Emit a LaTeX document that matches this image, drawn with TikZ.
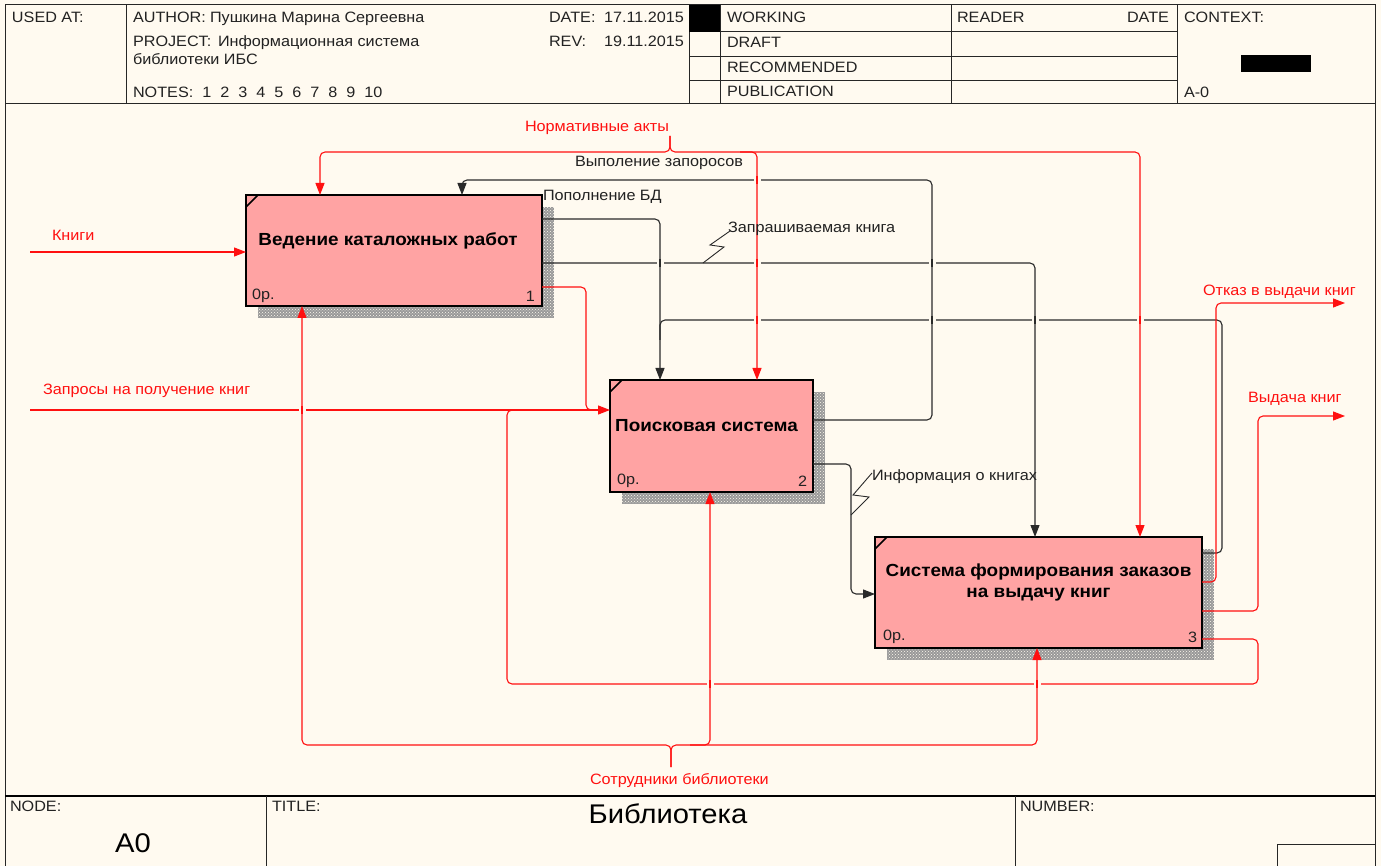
\documentclass[tikz,border=0pt]{standalone}
\usepackage{fontspec}
\setmainfont{Liberation Sans}[FakeStretch=1.08]
\usetikzlibrary{arrows.meta,patterns,calc}
\definecolor{bg}{HTML}{FFFAF0}
\definecolor{boxfill}{HTML}{FFA3A3}
\definecolor{ared}{HTML}{FF1010}
\definecolor{ink}{HTML}{222222}
\definecolor{wire}{HTML}{2A2A2A}
\newcommand{\crossgap}[3]{%
  \fill[bg] (#1-3.5,#2-2.2) rectangle (#1+3.5,#2+2.2);
  \draw[#3] (#1,#2-4) -- (#1,#2+4);}
\begin{document}
\begin{tikzpicture}[x=1pt,y=-1pt,
  every node/.style={inner sep=0pt,outer sep=0pt},
  frame/.style={draw=black!85,line width=1pt},
  hdr/.style={anchor=base west,font=\fontsize{15}{18}\selectfont,text=ink},
  rlbl/.style={anchor=base west,font=\fontsize{15}{18}\selectfont,text=ared},
  blbl/.style={anchor=base west,font=\fontsize{15}{18}\selectfont,text=ink},
  boxst/.style={draw=black,line width=2pt,fill=boxfill,anchor=north west},
  boxtxt/.style={font=\fontsize{17.5}{21}\bfseries\selectfont,text=black,align=center},
  cost/.style={font=\fontsize{15}{18}\selectfont,text=ink},
  shadowst/.style={fill=gray!80},
  shadowpat/.style={pattern=crosshatch dots,pattern color=bg},
  rw/.style={draw=ared,line width=1.1pt,rounded corners=5pt},
  bw/.style={draw=wire,line width=1.1pt,rounded corners=5pt},
  ar/.style={-{Triangle[length=12pt,width=9pt]}},
  zig/.style={draw=wire,line width=0.9pt}
]
\useasboundingbox (0,0) rectangle (1381,866);
\fill[bg] (0,0) rectangle (1381,866);

% ---------- frame & header ----------
\draw[frame] (5,866) -- (5,5) -- (1375,5) -- (1375,866);
\draw[frame] (5,104) -- (1375,104);
\draw[frame] (126,5) -- (126,104);
\draw[frame] (689,5) -- (689,104);
\draw[frame] (720,5) -- (720,104);
\draw[frame] (951,5) -- (951,104);
\draw[frame] (1177,5) -- (1177,104);
\draw[frame] (689,32) -- (1177,32);
\draw[frame] (689,57) -- (1177,57);
\draw[frame] (689,81) -- (1177,81);
\fill[black] (689,5) rectangle (720,32);
\fill[black] (1241,55) rectangle (1311,72);

\node[hdr] (usedat) at (12,23) {USED AT:};
\node[hdr] (author) at (133,23) {AUTHOR:};
\node[hdr] (authorv) at (210,23) {Пушкина Марина Сергеевна};
\node[hdr] (project) at (133,47) {PROJECT:};
\node[hdr] (projectv) at (218,47) {Информационная система};
\node[hdr] (project2) at (133,65) {библиотеки ИБС};
\node[hdr] (notes) at (133,98) {NOTES:\ \ 1\ \ 2\ \ 3\ \ 4\ \ 5\ \ 6\ \ 7\ \ 8\ \ 9\ \ 10};
\node[hdr] (date) at (549,23) {DATE:};
\node[hdr] (datev) at (604,23) {17.11.2015};
\node[hdr] (rev) at (549,47) {REV:};
\node[hdr] (revv) at (604,47) {19.11.2015};
\node[hdr] (working) at (727,23) {WORKING};
\node[hdr] (draft) at (727,48) {DRAFT};
\node[hdr] (recom) at (727,73) {RECOMMENDED};
\node[hdr] (publ) at (727,97) {PUBLICATION};
\node[hdr] (reader) at (957,23) {READER};
\node[hdr,anchor=base east] (rdate) at (1169,23) {DATE};
\node[hdr] (context) at (1184,23) {CONTEXT:};
\node[hdr] (azero) at (1184,98) {A-0};

% ---------- footer ----------
\draw[draw=black,line width=2pt] (5,796) -- (1375,796);
\draw[frame] (266,796) -- (266,866);
\draw[frame] (1015,796) -- (1015,866);
\draw[frame] (1277,866) -- (1277,844) -- (1375,844);
\node[hdr] (nodel) at (10,811) {NODE:};
\node[hdr] (titlel) at (272,811) {TITLE:};
\node[hdr] (numberl) at (1020,811) {NUMBER:};
\node[font=\fontsize{27}{30}\selectfont,text=black] (title) at (668,814) {Библиотека};
\node[font=\fontsize{27}{30}\selectfont,text=black] (nodeid) at (133,843) {A0};

% ---------- shadows ----------
\fill[shadowst] (258,207) rectangle (554,318);
\fill[shadowpat] (258,207) rectangle (554,318);
\fill[shadowst] (622,392) rectangle (825,504);
\fill[shadowpat] (622,392) rectangle (825,504);
\fill[shadowst] (887,549) rectangle (1214,660);
\fill[shadowpat] (887,549) rectangle (1214,660);

% ---------- boxes ----------
\node[boxst,minimum width=296pt,minimum height=111pt] (b1) at (246,195) {};
\node[boxst,minimum width=203pt,minimum height=112pt] (b2) at (610,380) {};
\node[boxst,minimum width=327pt,minimum height=111pt] (b3) at (875,537) {};
\foreach \b in {b1,b2,b3}{
  \draw[black,line width=1.5pt] ($(\b.north west)+(0,12)$) -- ($(\b.north west)+(12,0)$);
}
\node[boxtxt] (t1) at ($(b1.center)+(-6,-10)$) {Ведение каталожных работ};
\node[boxtxt] (t2) at ($(b2.center)+(-5,-10)$) {Поисковая система};
\node[boxtxt] (t3) at ($(b3.center)+(0,-10)$) {Система формирования заказов\\на выдачу книг};
\node[cost,anchor=west] (c1) at (252,296) {0р.};
\node[cost,anchor=east] (n1) at (535,296) {1};
\node[cost,anchor=west] (c2) at (617,481) {0р.};
\node[cost,anchor=east] (n2) at (807,481) {2};
\node[cost,anchor=west] (c3) at (883,637) {0р.};
\node[cost,anchor=east] (n3) at (1197,637) {3};

% ---------- free ends ----------
\coordinate (inKnigi) at (30,252);
\coordinate (inZap) at (30,410);
\coordinate (ctlNorm) at (670,136);
\coordinate (mechSotr) at (671,767);
\coordinate (outOtkaz) at (1345,303);
\coordinate (outVyd) at (1345,416);

% ---------- inputs ----------
\draw[rw,ar] (inKnigi) -- (b1.west |- inKnigi);
\draw[rw,ar] (inZap) -- (b2.west |- inZap);
\draw[rw] ($(b1.north east)+(0,92)$) -- (586,287) -- (586,410) -- (605,410);
\draw[rw] ($(b3.north east)+(0,102)$) -- (1258,639) -- (1258,684) -- (507,684) -- (507,410) -- (525,410);

% ---------- controls ----------
\draw[rw,ar] (ctlNorm) -- (670,152) -- (320,152) -- ($(b1.north west)+(74,0)$);
\draw[rw,ar] (ctlNorm) -- (670,152) -- (1140,152) -- ($(b3.north west)+(265,0)$);
\draw[rw,ar] (740,152) -- (757,152) -- ($(b2.north west)+(147,0)$);

\draw[bw,ar] ($(b2.north east)+(0,40)$) -- (932,420) -- (932,180) -- (462,180) -- ($(b1.north west)+(216,0)$);
\draw[bw,ar] ($(b1.north east)+(0,24)$) -- (660,219) -- ($(b2.north west)+(50,0)$);
\draw[bw] ($(b3.north east)+(0,16)$) -- (1222,553) -- (1222,320) -- (660,320) -- (660,340);
\draw[bw,ar] ($(b1.north east)+(0,68)$) -- (1035,263) -- ($(b3.north west)+(160,0)$);
\draw[bw,ar] ($(b2.north east)+(0,84)$) -- (851,464) -- (851,594) -- (b3.west |- 0,594);

% ---------- outputs ----------
\draw[rw,ar] ($(b3.north east)+(0,45)$) -- (1216,582) -- (1216,303) -- (outOtkaz);
\draw[rw,ar] ($(b3.north east)+(0,74)$) -- (1258,611) -- (1258,416) -- (outVyd);

% ---------- mechanisms ----------
\draw[rw,ar] (mechSotr) -- (671,745) -- (302,745) -- ($(b1.south west)+(56,0)$);
\draw[rw,ar] (mechSotr) -- (671,745) -- (1037,745) -- ($(b3.south west)+(162,0)$);
\draw[rw,ar] (690,745) -- (710,745) -- ($(b2.south west)+(100,0)$);

% ---------- crossing gaps ----------
\crossgap{302}{410}{draw=ared,line width=1.1pt}
\crossgap{660}{263}{draw=wire,line width=1.1pt}
\crossgap{757}{263}{draw=ared,line width=1.1pt}
\crossgap{932}{263}{draw=wire,line width=1.1pt}
\crossgap{757}{180}{draw=ared,line width=1.1pt}
\crossgap{757}{320}{draw=ared,line width=1.1pt}
\crossgap{932}{320}{draw=wire,line width=1.1pt}
\crossgap{1035}{320}{draw=wire,line width=1.1pt}
\crossgap{1140}{320}{draw=ared,line width=1.1pt}
\crossgap{710}{684}{draw=ared,line width=1.1pt}
\crossgap{1037}{684}{draw=ared,line width=1.1pt}

% ---------- squiggles ----------
\draw[zig] (730,231) -- (710,245) -- (724,247) -- (703,263);
\draw[zig] (872,473) -- (853,495) -- (869,497) -- (851,515);

% ---------- arrow labels ----------
\node[rlbl] (lKnigi) at (52,241) {Книги};
\node[rlbl] (lZap) at (43,394) {Запросы на получение книг};
\node[rlbl] (lNorm) at (525,132) {Нормативные акты};
\node[rlbl] (lSotr) at (590,784) {Сотрудники библиотеки};
\node[rlbl] (lOtkaz) at (1203,296) {Отказ в выдачи книг};
\node[rlbl] (lVyd) at (1248,402) {Выдача книг};
\node[blbl] (lVyp) at (575,167) {Выполение запоросов};
\node[blbl] (lPop) at (543,201) {Пополнение БД};
\node[blbl] (lZapr) at (728,233) {Запрашиваемая книга};
\node[blbl] (lInf) at (872,480) {Информация о книгах};
\end{tikzpicture}
\end{document}
